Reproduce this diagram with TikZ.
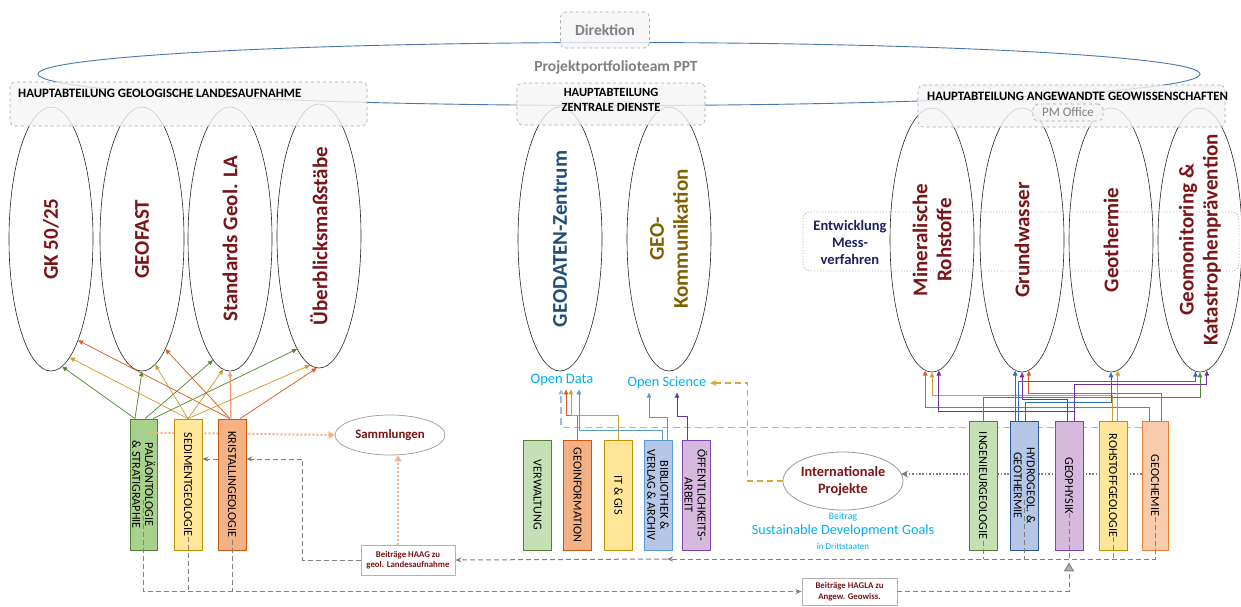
\documentclass[tikz,border=0pt]{standalone}
\usepackage{fontspec}
\setmainfont{Carlito}
\usetikzlibrary{shapes.geometric,arrows.meta,calc}
\pgfdeclarelayer{bg}
\pgfsetlayers{bg,main}
\definecolor{dred}{RGB}{122,20,22}
\definecolor{navytxt}{RGB}{31,78,121}
\definecolor{browntxt}{RGB}{127,96,0}
\definecolor{entwtxt}{RGB}{32,32,96}
\definecolor{lbluetxt}{RGB}{0,176,240}
\definecolor{pptblue}{RGB}{70,120,175}
\definecolor{dgray}{RGB}{128,128,128}
\definecolor{gF}{RGB}{169,209,142}
\definecolor{lgF}{RGB}{197,224,180}
\definecolor{gB}{RGB}{84,130,53}
\definecolor{yF}{RGB}{255,230,153}
\definecolor{yB}{RGB}{191,144,0}
\definecolor{oF}{RGB}{244,177,131}
\definecolor{oB}{RGB}{197,90,17}
\definecolor{pF}{RGB}{248,203,173}
\definecolor{pB}{RGB}{237,125,49}
\definecolor{bF}{RGB}{180,199,231}
\definecolor{bB}{RGB}{91,155,213}
\definecolor{bB2}{RGB}{47,85,151}
\definecolor{vF}{RGB}{214,186,222}
\definecolor{vB}{RGB}{128,70,170}
\definecolor{lnGreen}{RGB}{84,140,53}
\definecolor{lnGold}{RGB}{205,160,45}
\definecolor{lnOrange}{RGB}{215,95,35}
\definecolor{lnLOrange}{RGB}{240,160,120}
\definecolor{lnPurple}{RGB}{112,48,160}
\definecolor{lnBlue}{RGB}{47,110,186}
\definecolor{lnMBlue}{RGB}{91,155,213}
\definecolor{dashBlue}{RGB}{160,185,228}
\definecolor{dashGold}{RGB}{212,170,50}
\definecolor{dotOrange}{RGB}{244,177,131}
\begin{document}
\begin{tikzpicture}[x=1pt,y=-1pt,
  ell/.style={ellipse,draw=black!85,line width=0.6pt,minimum width=84pt,minimum height=264pt,inner sep=0pt},
  elltxt/.style={rotate=90,font=\fontsize{21}{24}\selectfont\bfseries,text=dred,align=center},
  hbox/.style={draw=gray!70,dashed,rounded corners=5pt,fill=gray!8,fill opacity=0.8,text opacity=1,line width=0.6pt,inner sep=0pt},
  htxt/.style={font=\fontsize{12.8}{15}\selectfont\bfseries,text=black,inner sep=0pt},
  vbox/.style={draw,line width=0.8pt,minimum width=28pt,inner sep=0pt},
  vtxt/.style={rotate=-90,font=\fontsize{12.2}{12.8}\selectfont,align=center,inner sep=0pt},
  arr/.style={-{Triangle[length=5pt,width=4.5pt]},line width=0.75pt},
  gdash/.style={draw=dgray,line width=1pt,dash pattern=on 5pt off 3pt},
  garr/.style={-{Stealth[length=6pt,width=5pt]}},
  odot/.style={draw=dotOrange,line width=2pt,dash pattern=on 2pt off 2pt,-{Triangle[length=6pt,width=7pt]}},
  btxt/.style={font=\fontsize{8.8}{10.5}\selectfont\bfseries,text=dred,align=center},
]
\useasboundingbox (0,0) rectangle (1241,606);

% PPT ellipse
\node[ellipse,draw=pptblue,line width=0.9pt,minimum width=1162pt,minimum height=63pt,inner sep=0pt] (ppt) at (619,74) {};
\node[font=\fontsize{15.5}{17}\selectfont\bfseries,text=gray] (ppttxt) at (616,67) {Projektportfolioteam PPT};

% Entwicklung box
\node[draw=gray!70,dotted,line width=0.9pt,rounded corners=7pt,minimum width=436pt,minimum height=59pt,inner sep=0pt] (entw) at (1021,241.5) {};
\node[font=\fontsize{14.5}{17}\selectfont\bfseries,text=entwtxt,align=center] (entwt) at (850,242) {Entwicklung\\Mess-\\verfahren};

% Ellipses
\node[ell] (gk) at (51,239) {};
\node[elltxt] (gkt) at (gk) {GK 50/25};
\node[ell] (geofast) at (142,239) {};
\node[elltxt] (geofastt) at (geofast) {GEOFAST};
\node[ell] (std) at (230,239) {};
\node[elltxt] (stdt) at (std) {Standards Geol. LA};
\node[ell] (ueb) at (319,236) {};
\node[elltxt] (uebt) at (ueb) {Überblicksmaßstäbe};
\node[ell] (geod) at (560,239) {};
\node[elltxt,text=navytxt] (geodt) at (geod) {GEODATEN-Zentrum};
\node[ell] (geok) at (669,239) {};
\node[elltxt,text=browntxt] (geokt) at (geok) {GEO-\\Kommunikation};
\node[ell] (min) at (932,240) {};
\node[elltxt] (mint) at (min) {Mineralische\\Rohstoffe};
\node[ell] (grund) at (1022,240) {};
\node[elltxt] (grundt) at (grund) {Grundwasser};
\node[ell] (geoth) at (1111,240) {};
\node[elltxt] (geotht) at (geoth) {Geothermie};
\node[ell] (geomon) at (1200,240) {};
\node[elltxt] (geomont) at (geomon) {Geomonitoring \&\\Katastrophenprävention};

% Header boxes
\node[hbox,minimum width=89pt,minimum height=36pt,font=\fontsize{15.5}{17}\selectfont\bfseries,text=gray] (dir) at (605,30) {Direktion};
\node[hbox,minimum width=357pt,minimum height=44pt] (hgl) at (188.5,104) {};
\node[htxt,anchor=west] (hglt) at (18,93) {HAUPTABTEILUNG GEOLOGISCHE LANDESAUFNAHME};
\node[hbox,minimum width=188pt,minimum height=42pt] (hzd) at (611,104) {};
\node[htxt,align=center,font=\fontsize{12.5}{15}\selectfont\bfseries] (hzdt) at (611,99.5) {HAUPTABTEILUNG\\ZENTRALE DIENSTE};
\node[hbox,minimum width=307pt,minimum height=42pt] (hag) at (1071.5,106) {};
\node[htxt,anchor=west] (hagt) at (927,96) {HAUPTABTEILUNG ANGEWANDTE GEOWISSENSCHAFTEN};
\node[hbox,minimum width=70pt,minimum height=17pt,font=\fontsize{13}{13}\selectfont,text=gray] (pmo) at (1068,112.5) {PM Office};

% Labels
\node[font=\fontsize{14.5}{15}\selectfont,text=lbluetxt] (od) at (562,380) {Open Data};
\node[font=\fontsize{14.3}{15}\selectfont,text=lbluetxt] (os) at (667,383) {Open Science};
\node[ellipse,draw=gray!80,line width=0.7pt,minimum width=110pt,minimum height=40pt,inner sep=0pt,font=\fontsize{12.8}{14}\selectfont\bfseries,text=dred] (samm) at (390,435) {Sammlungen};
\node[ellipse,draw=gray!80,line width=0.8pt,minimum width=120pt,minimum height=58pt,inner sep=0pt,align=center,font=\fontsize{14.3}{17}\selectfont\bfseries,text=dred] (ip) at (843,481) {Internationale\\Projekte};
\node[font=\fontsize{9.8}{10}\selectfont,text=lbluetxt] (sdg1) at (843,517) {Beitrag};
\node[font=\fontsize{14.2}{15}\selectfont,text=lbluetxt] (sdg2) at (843,531) {Sustainable Development Goals};
\node[font=\fontsize{9}{10}\selectfont,text=lbluetxt] (sdg3) at (843,546) {in Drittstaaten};

% left boxes
\node[vbox,fill=gF,draw=gB,minimum width=27pt,minimum height=131pt] (pal) at (143.5,484.5) {};
\node[vtxt] (palt) at (pal) {PALÄONTOLOGIE\\\& STRATIGRAPHIE};
\draw[odot] ([xshift=5pt,yshift=-14pt]pal.north) -- (samm.west);
\node[vbox,fill=yF,draw=yB,minimum height=131pt] (sed) at (188,484.5) {};
\node[vtxt] (sedt) at (sed) {SEDIMENTGEOLOGIE};
\node[vbox,fill=oF,draw=oB,minimum height=131pt] (kri) at (232,484.5) {};
\node[vtxt] (krit) at (kri) {KRISTALLINGEOLOGIE};

% middle boxes
\node[vbox,fill=lgF,draw=gB,minimum height=110pt] (verw) at (537.5,495) {};
\node[vtxt] (verwt) at (verw) {VERWALTUNG};
\node[vbox,fill=oF,draw=oB,minimum height=110pt] (geoinf) at (577.5,495) {};
\node[vtxt] (geoinft) at (geoinf) {GEOINFORMATION};
\node[vbox,fill=yF,draw=yB,minimum height=110pt] (itgis) at (618.5,495) {};
\node[vtxt] (itgist) at (itgis) {IT \& GIS};
\node[vbox,fill=bF,draw=bB,minimum height=110pt] (bib) at (658,495) {};
\node[vtxt] (bibt) at (bib) {BIBLIOTHEK \&\\VERLAG \& ARCHIV};
\node[vbox,fill=vF,draw=vB,minimum height=110pt] (oeff) at (696,495) {};
\node[vtxt] (oefft) at (oeff) {ÖFFENTLICHKEITS-\\ARBEIT};

% right boxes
\node[vbox,fill=lgF,draw=gB,minimum height=129pt] (ing) at (983,485.5) {};
\node[vtxt] (ingt) at (ing) {INGENIEURGEOLOGIE};
\node[vbox,fill=bF,draw=bB2,minimum height=129pt] (hyd) at (1024.5,485.5) {};
\node[vtxt] (hydt) at (hyd) {HYDROGEOL. \&\\GEOTHERMIE};
\node[vbox,fill=vF,draw=vB,minimum height=129pt] (gph) at (1069,485.5) {};
\node[vtxt] (gpht) at (gph) {GEOPHYSIK};
\node[vbox,fill=yF,draw=yB,minimum height=129pt] (roh) at (1113,485.5) {};
\node[vtxt] (roht) at (roh) {ROHSTOFFGEOLOGIE};
\node[vbox,fill=pF,draw=pB,minimum width=26pt,minimum height=129pt] (gch) at (1155,485.5) {};
\node[vtxt] (gcht) at (gch) {GEOCHEMIE};

% connectors behind boxes
\begin{pgfonlayer}{bg}
\coordinate (bds) at ([yshift=-7pt]gch.north west);
\draw[dashBlue,line width=1.2pt,dash pattern=on 7pt off 4pt,-{Triangle[length=5pt,width=5pt]}] (bds) -| ([xshift=-1pt]od.south);
\coordinate (gds) at ([yshift=11.5pt]gch.west);
\draw[dgray,line width=1.6pt,dash pattern=on 1.6pt off 1.8pt,-{Stealth[length=7pt,width=7pt]}] (gds) -- (ip.8 |- gds);
\end{pgfonlayer}

% contribution boxes
\node[draw=gray!60,fill=white,line width=0.8pt,minimum width=94pt,minimum height=30pt,inner sep=0pt,btxt] (haag) at (408,560) {Beiträge HAAG zu\\geol. Landesaufnahme};
\node[draw=gray!60,fill=white,line width=0.8pt,minimum width=95pt,minimum height=27pt,inner sep=0pt,btxt] (hagla) at (849.5,591.5) {Beiträge HAGLA zu\\Angew. Geowiss.};

% left coloured arrows
\draw[arr,lnGreen] ([xshift=-8.5pt]pal.north) -- (gk.-85);
\draw[arr,lnGreen] ([xshift=-8.5pt]pal.north) -- (geofast.-90);
\draw[arr,lnGreen] ([xshift=1.5pt]pal.north) -- (std.-98);
\draw[arr,lnGreen] ([xshift=9.5pt]pal.north) -- (ueb.-101);
\draw[arr,lnGold] (sed.north) -- (gk.-81);
\draw[arr,lnGold] (sed.north) -- (geofast.-84);
\draw[arr,lnGold] (sed.north) -- (std.-93);
\draw[arr,lnGold] (sed.north) -- (ueb.-94);
\draw[arr,lnOrange] ([xshift=-2pt]kri.north) -- (gk.-75);
\draw[arr,lnOrange] ([xshift=-2pt]kri.north) -- (geofast.-78);
\draw[arr,lnLOrange,line width=1.3pt] ([xshift=-1pt]kri.north) -- (std.-90);
\draw[arr,lnOrange] ([xshift=8pt]kri.north) -- (ueb.-91);

% middle arrows
\draw[arr,lnOrange] (geoinf.north) -- ++(0,-24) -| ([xshift=4pt]od.south);
\draw[arr,lnGold] (itgis.north) -- ++(0,-24) -| ([xshift=9pt]od.south);
\draw[arr,lnMBlue] ([xshift=4pt]bib.north) -- ++(0,-9) -| ([xshift=17pt]od.south);
\draw[arr,lnMBlue] ([xshift=9pt]bib.north) -- ++(0,-22) -| ([xshift=-18pt]os.south);
\draw[arr,lnPurple] ([xshift=-9pt]oeff.north) -- ++(0,-23) -| ([xshift=10pt]os.south);
\draw[dashGold,line width=1.5pt,dash pattern=on 6pt off 4pt,-{Stealth[length=7pt,width=6pt]}] (ip.west) -- ++(-35,0) |- (os.east);

% right arrows
\draw[arr,lnOrange] ([xshift=-6pt]gch.north) -- ++(0,-13) -| (min.-93);
\draw[arr,lnGold] ([xshift=-1pt]roh.north) -- ++(0,-25) -| (min.-90);
\draw[arr,lnPurple] ([xshift=5pt]gph.north) -- ++(0,-9) -| (min.-87.5);
\draw[arr,lnBlue] (hyd.north -| grund.-93.5) -- (grund.-93.5);
\draw[arr,lnPurple] ([xshift=-2pt]gph.north) -- ++(0,-21) -| (grund.-90);
\draw[arr,lnOrange] ([xshift=6pt]gch.north) -- ++(0,-27) -| (grund.-87);
\draw[arr,lnBlue] ([xshift=0.5pt]hyd.north) -- ++(0,-18) -| (geoth.-90);
\draw[arr,lnGold] (roh.north -| geoth.-87) -- (geoth.-87);
\draw[arr,lnBlue] ([xshift=-6.5pt]hyd.north) -- ++(0,-39) -| (geomon.-92.5);
\draw[arr,lnGreen] (ing.north) -- ++(0,-23) -| (geomon.-90);
\draw[arr,lnPurple] ([xshift=5pt]gph.north) -- ++(0,-36) -| (geomon.-87.5);

% gray dashed flows
\draw[gdash,garr] ([yshift=-15.5pt]pal.center) |- (hagla.west);
\draw[gdash] ([yshift=-52.5pt]sed.center) -- (sed.center |- hagla.west);
\draw[gdash] ([yshift=-55pt]kri.center) -- (kri.center |- hagla.west);
\coordinate (hm) at (667,559);
\draw[gdash,garr] ([yshift=-31.5pt]gch.center) |- (hm);
\draw[gdash,garr] (hm) -- (haag.east);
\draw[gdash] ([yshift=-55pt]ing.center) -- (ing.center |- hm);
\draw[gdash] ([yshift=-14.5pt]hyd.center) -- (hyd.center |- hm);
\draw[gdash] ([yshift=-27.5pt]gph.center) -- (gph.center |- hm);
\draw[gdash] ([yshift=-51.5pt]roh.center) -- (roh.center |- hm);
\draw[gdash,-{Triangle[length=9pt,width=10pt,fill=gray!60]}] (hagla.east) -| ([yshift=-12pt]gph.south);
\draw[gdash,garr] (haag.west) -- ++(-58,0) |- ([yshift=25.5pt]kri.east);
\draw[gdash,garr] ([yshift=25.5pt]kri.west) -- ([yshift=25.5pt]sed.east);
\coordinate (hs) at ([xshift=-10pt]haag.north);
\draw[odot] (hs) -- (hs |- samm.south);
\end{tikzpicture}
\end{document}
